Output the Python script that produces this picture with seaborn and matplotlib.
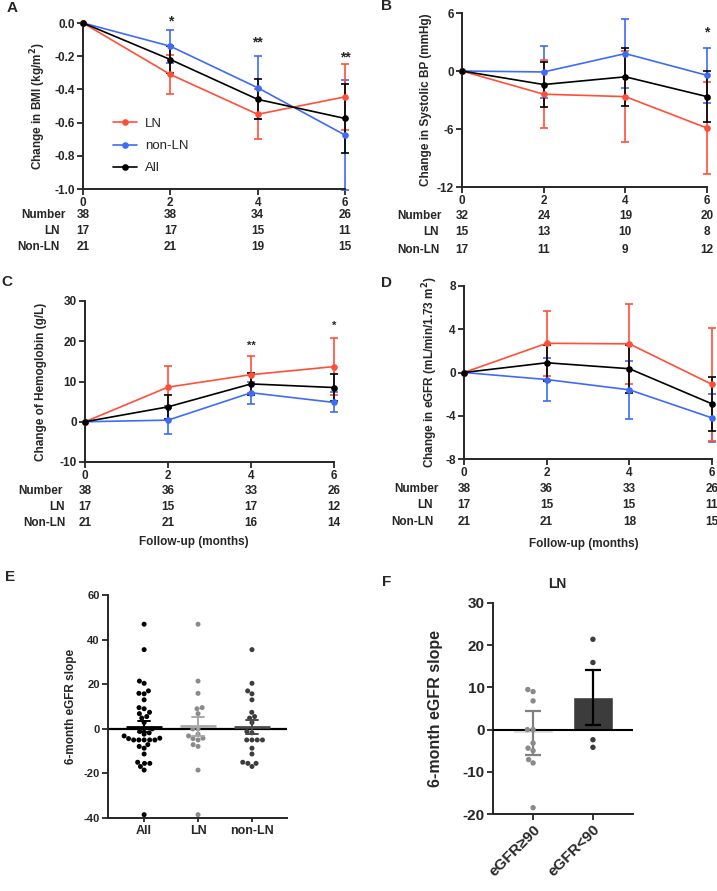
import numpy as np
import pandas as pd
import matplotlib
matplotlib.use("Agg")
import matplotlib.pyplot as plt
import seaborn as sns
from matplotlib.lines import Line2D
from matplotlib.transforms import blended_transform_factory

# ---------------- data ----------------
months = [0, 2, 4, 6]
row_labels = ["Number", "LN", "Non-LN"]

# A: BMI
bmi_LN = [0, -0.31, -0.55, -0.445]
bmi_LN_err = [0, 0.12, 0.15, 0.20]
bmi_non = [0, -0.14, -0.39, -0.675]
bmi_non_err = [0, 0.10, 0.19, 0.33]
bmi_all = [0, -0.22, -0.46, -0.575]
bmi_all_err = [0, 0.08, 0.12, 0.21]
bmi_n_total = [38, 38, 34, 26]
bmi_n_LN = [17, 17, 15, 11]
bmi_n_non = [21, 21, 19, 15]
bmi_stars = ["", "*", "**", "**"]

# B: systolic BP
sbp_LN = [0, -2.4, -2.65, -5.9]
sbp_LN_err = [0, 3.5, 4.7, 4.8]
sbp_non = [0, -0.1, 1.8, -0.45]
sbp_non_err = [0, 2.65, 3.57, 2.87]
sbp_all = [0, -1.4, -0.6, -2.65]
sbp_all_err = [0, 2.3, 3.0, 2.6]
sbp_n_total = [32, 24, 19, 20]
sbp_n_LN = [15, 13, 10, 8]
sbp_n_non = [17, 11, 9, 12]
sbp_stars = ["", "", "", "*"]

# C: hemoglobin
hb_LN = [0, 8.6, 11.7, 13.7]
hb_LN_err = [0, 5.3, 4.6, 7.0]
hb_non = [0, 0.4, 7.2, 4.8]
hb_non_err = [0, 3.5, 2.8, 2.5]
hb_all = [0, 3.7, 9.4, 8.5]
hb_all_err = [0, 3.0, 2.7, 3.3]
hb_n_total = [38, 36, 33, 26]
hb_n_LN = [17, 15, 17, 12]
hb_n_non = [21, 21, 16, 14]
hb_stars = ["", "", "**", "*"]

# D: eGFR
egfr_LN = [0, 2.7, 2.65, -1.1]
egfr_LN_err = [0, 3.0, 3.7, 5.2]
egfr_non = [0, -0.65, -1.6, -4.2]
egfr_non_err = [0, 1.95, 2.68, 2.2]
egfr_all = [0, 0.9, 0.35, -2.9]
egfr_all_err = [0, 1.65, 2.2, 2.5]
egfr_n_total = [38, 36, 33, 26]
egfr_n_LN = [17, 15, 15, 11]
egfr_n_non = [21, 21, 18, 15]

# E: 6-month eGFR slope
E_groups = ["All", "LN", "non-LN"]
E_LN = [46.9, 21.4, 15.9, 9.5, 9.0, 6.8, 0.0, 0.0, -2.4, -3.2, -4.2, -4.4,
        -5.0, -7.1, -7.9, -18.5, -38.5]
E_non = [35.5, 20.4, 17.0, 15.7, 13.0, 7.4, 5.5, 4.8, 2.8, -1.2, -1.8, -5.0,
         -5.0, -5.0, -5.0, -8.7, -11.3, -15.0, -15.5, -15.5, -16.9]

# F: LN by baseline eGFR
F_groups = ["eGFR\u226590", "eGFR<90"]
F_ge90 = [9.5, 9.0, 6.8, 0.0, 0.0, -3.2, -4.4, -5.0, -7.1, -7.9, -18.5]
F_lt90 = [21.4, 15.9, -2.4, -4.2]
F_mean = [-0.8, 7.7]
F_err = [5.3, 6.5]

# ---------------- style ----------------
sns.set_style("ticks")
plt.rcParams["font.family"] = ["Liberation Sans", "DejaVu Sans"]
plt.rcParams["font.weight"] = "bold"
plt.rcParams["axes.labelweight"] = "bold"
plt.rcParams["axes.unicode_minus"] = False
plt.rcParams["axes.linewidth"] = 1.4

RED = "#FF4F38"
BLUE = "#3E6BF7"
BLACK = "#000000"
pal = {"LN": RED, "non-LN": BLUE, "All": BLACK}

W, H = 717, 891
fig = plt.figure(figsize=(W / 100, H / 100), dpi=100)


def fx(x):
    return x / W


def fy(y):
    return 1 - y / H


def add_axes(l, r, t, b):
    return fig.add_axes([fx(l), fy(b), (r - l) / W, (b - t) / H])


FS = 8.5


def style_ax(ax, fs=FS):
    sns.despine(ax=ax)
    ax.tick_params(direction="out", length=4, width=1.3, labelsize=fs, pad=2)
    for s in ax.spines.values():
        s.set_linewidth(1.4)


def line_panel(ax, series, errs, ylim, yticks, yfmt, ylabel, lab_x, tables,
               row_x, stars, star_y, star_fs):
    df = pd.DataFrame({
        "month": months * 3,
        "value": series["LN"] + series["non-LN"] + series["All"],
        "group": ["LN"] * 4 + ["non-LN"] * 4 + ["All"] * 4,
    })
    for g in ["non-LN", "LN", "All"]:
        sub = df[df["group"] == g]
        sns.lineplot(data=sub, x="month", y="value", color=pal[g], marker="o",
                     markersize=4.8, markeredgewidth=0, linewidth=1.2,
                     errorbar=None, ax=ax, clip_on=False, zorder=3)
        eb = ax.errorbar(months[1:], series[g][1:], yerr=errs[g][1:], fmt="none",
                         ecolor=pal[g], elinewidth=1.2, capsize=3.2, capthick=1.2,
                         zorder=2)
        for art in eb.lines[1] + eb.lines[2]:
            art.set_clip_on(False)
    ax.set_xlim(0, 6)
    ax.set_ylim(*ylim)
    ax.set_xticks(months)
    ax.set_yticks(yticks)
    ax.set_yticklabels([yfmt.format(v) for v in yticks])
    ax.set_xlabel("")
    ax.set_ylabel(ylabel, fontsize=FS)
    ax.yaxis.set_label_coords(lab_x, 0.5)
    style_ax(ax)
    trans = blended_transform_factory(ax.transData, fig.transFigure)
    for (vals, ypix), lab, rx in zip(tables, row_labels, row_x):
        fig.text(fx(rx), fy(ypix), lab, ha="right", va="center", fontsize=FS)
        for m, v in zip(months, vals):
            ax.text(m, fy(ypix), str(v), transform=trans, ha="center",
                    va="center", fontsize=FS)
    for m, s, yy in zip(months, stars, star_y):
        if s:
            ax.annotate(s, (m, yy), xytext=(0, -0.6 * star_fs),
                        textcoords="offset points", ha="center", va="baseline",
                        fontsize=star_fs, fontweight="bold",
                        annotation_clip=False)


# ---- A ----
axA = add_axes(83, 345, 23, 189)
line_panel(axA, {"LN": bmi_LN, "non-LN": bmi_non, "All": bmi_all},
           {"LN": bmi_LN_err, "non-LN": bmi_non_err, "All": bmi_all_err},
           (-1.0, 0.0), [-1.0, -0.8, -0.6, -0.4, -0.2, 0.0], "{:.1f}",
           "Change in BMI (kg/m$^\\mathbf{2}$)", -0.134,
           [(bmi_n_total, 215), (bmi_n_LN, 231), (bmi_n_non, 247)],
           [66, 60, 60], bmi_stars, [0, 0.036, -0.094, -0.184], 10)
handles = [Line2D([], [], color=pal[g], marker="o", markersize=4.8,
                  markeredgewidth=0, linewidth=1.2) for g in ["LN", "non-LN", "All"]]
axA.legend(handles, ["LN", "non-LN", "All"], loc="upper left",
           bbox_to_anchor=(0.07, 0.50), frameon=False, handlelength=1.8,
           labelspacing=0.75, handletextpad=0.6, prop={"weight": "normal", "size": 9.5})

# ---- B ----
axB = add_axes(462, 707, 13, 187)
line_panel(axB, {"LN": sbp_LN, "non-LN": sbp_non, "All": sbp_all},
           {"LN": sbp_LN_err, "non-LN": sbp_non_err, "All": sbp_all_err},
           (-12, 6), [-12, -6, 0, 6], "{:d}",
           "Change in Systolic BP (mmHg)", -0.122,
           [(sbp_n_total, 216), (sbp_n_LN, 232), (sbp_n_non, 250)],
           [442, 439, 439], sbp_stars, [0, 0, 0, 4.4], 10)

# ---- C ----
axC = add_axes(85, 334, 301, 462)
line_panel(axC, {"LN": hb_LN, "non-LN": hb_non, "All": hb_all},
           {"LN": hb_LN_err, "non-LN": hb_non_err, "All": hb_all_err},
           (-10, 30), [-10, 0, 10, 20, 30], "{:d}",
           "Change of Hemoglobin (g/L)", -0.153,
           [(hb_n_total, 491), (hb_n_LN, 507), (hb_n_non, 523)],
           [63, 65, 65], hb_stars, [0, 0, 19.7, 24.8], 8)
fig.text(fx(194), fy(542), "Follow-up (months)", ha="center", va="center", fontsize=FS)

# ---- D ----
axD = add_axes(464, 712, 286, 459)
line_panel(axD, {"LN": egfr_LN, "non-LN": egfr_non, "All": egfr_all},
           {"LN": egfr_LN_err, "non-LN": egfr_non_err, "All": egfr_all_err},
           (-8, 8), [-8, -4, 0, 4, 8], "{:d}",
           "Change in eGFR (mL/min/1.73 m$^\\mathbf{2}$)", -0.097,
           [(egfr_n_total, 489), (egfr_n_LN, 505), (egfr_n_non, 522)],
           [439, 433, 433], ["", "", "", ""], [0, 0, 0, 0], 10)
fig.text(fx(584), fy(544), "Follow-up (months)", ha="center", va="center", fontsize=FS)

# ---- E ----
axE = add_axes(108, 287, 595, 818)
dfE = pd.DataFrame({
    "group": ["All"] * (len(E_LN) + len(E_non)) + ["LN"] * len(E_LN) + ["non-LN"] * len(E_non),
    "value": E_LN + E_non + E_LN + E_non,
})
axE.axhline(0, color="black", linewidth=1.6, zorder=1)
sns.swarmplot(data=dfE, x="group", y="value", hue="group", order=E_groups,
              hue_order=E_groups,
              palette={"All": "#000000", "LN": "#8a8a8a", "non-LN": "#3c3c3c"},
              size=3.6, legend=False, ax=axE, zorder=2)
sns.pointplot(data=dfE, x="group", y="value", hue="group", order=E_groups,
              hue_order=E_groups,
              palette={"All": "#000000", "LN": "#a8a8a8", "non-LN": "#4a4a4a"},
              estimator="mean", errorbar="se", markers="_", markersize=26,
              markeredgewidth=2.0, linestyle="none", capsize=0.22,
              err_kws={"linewidth": 1.4}, legend=False, ax=axE, dodge=False)
axE.set_xlim(-0.67, 2.65)
axE.set_ylim(-40, 60)
axE.set_yticks([-40, -20, 0, 20, 40, 60])
axE.set_xlabel("")
axE.set_ylabel("6-month eGFR slope", fontsize=8.5)
axE.yaxis.set_label_coords(-0.173, 0.5)
style_ax(axE, fs=8)
axE.tick_params(axis="x", labelsize=9, length=3)

# ---- F ----
axF = add_axes(493, 633, 603, 814)
dfFm = pd.DataFrame({"group": F_groups, "slope": F_mean})
sns.barplot(data=dfFm, x="group", y="slope", hue="group", order=F_groups,
            hue_order=F_groups,
            palette={F_groups[0]: "#d9d9d9", F_groups[1]: "#3c3c3c"},
            width=0.67, errorbar=None, legend=False, ax=axF, zorder=1)
for i, (m, e, c) in enumerate(zip(F_mean, F_err, ["#808080", "#000000"])):
    axF.errorbar([i], [m], yerr=[e], fmt="none", ecolor=c, elinewidth=1.6,
                 capsize=5.5, capthick=1.6, zorder=4)
axF.axhline(0, color="black", linewidth=1.5, zorder=3)
dfF = pd.DataFrame({
    "group": [F_groups[0]] * len(F_ge90) + [F_groups[1]] * len(F_lt90),
    "slope": F_ge90 + F_lt90,
})
sns.swarmplot(data=dfF, x="group", y="slope", hue="group", order=F_groups,
              hue_order=F_groups,
              palette={F_groups[0]: "#8a8a8a", F_groups[1]: "#3c3c3c"},
              size=3.9, legend=False, ax=axF, zorder=5)
axF.set_xlim(-0.67, 1.67)
axF.set_ylim(-20, 30)
axF.set_yticks([-20, -10, 0, 10, 20, 30])
axF.set_xlabel("")
axF.set_ylabel("6-month eGFR slope", fontsize=11.5)
axF.yaxis.set_label_coords(-0.357, 0.5)
style_ax(axF, fs=11)
axF.set_xticks([0, 1])
axF.set_xticklabels(F_groups, rotation=45, ha="right", rotation_mode="anchor",
                    fontsize=11)
fig.text(fx(557), fy(584), "LN", ha="center", va="center", fontsize=10)

# panel letters
for lab, (x, y) in zip("ABCDEF", [(12, 8), (387, 6), (7, 282), (387, 283),
                                  (10, 577), (387, 582)]):
    fig.text(fx(x), fy(y), lab, ha="center", va="center", fontsize=11,
             fontweight="bold")

fig.savefig("out.png", dpi=100)
